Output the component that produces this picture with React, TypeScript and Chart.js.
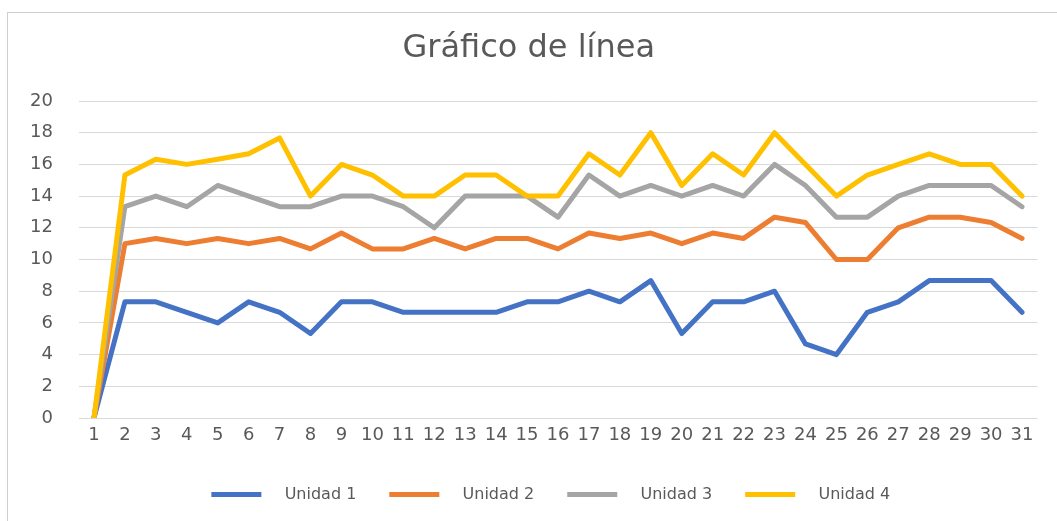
import React, { useEffect, useRef } from "react";
import { Chart, registerables } from "chart.js";

Chart.register(...registerables);

const categories = ["1","2","3","4","5","6","7","8","9","10","11","12","13","14","15","16","17","18","19","20","21","22","23","24","25","26","27","28","29","30","31"];
const unidad1 = [0, 7.33, 7.33, 6.67, 6, 7.33, 6.67, 5.33, 7.33, 7.33, 6.67, 6.67, 6.67, 6.67, 7.33, 7.33, 8, 7.33, 8.67, 5.33, 7.33, 7.33, 8, 4.67, 4, 6.67, 7.33, 8.67, 8.67, 8.67, 6.67];
const unidad2 = [0, 11, 11.33, 11, 11.33, 11, 11.33, 10.67, 11.67, 10.67, 10.67, 11.33, 10.67, 11.33, 11.33, 10.67, 11.67, 11.33, 11.67, 11, 11.67, 11.33, 12.67, 12.33, 10, 10, 12, 12.67, 12.67, 12.33, 11.33];
const unidad3 = [0, 13.33, 14, 13.33, 14.67, 14, 13.33, 13.33, 14, 14, 13.33, 12, 14, 14, 14, 12.67, 15.33, 14, 14.67, 14, 14.67, 14, 16, 14.67, 12.67, 12.67, 14, 14.67, 14.67, 14.67, 13.33];
const unidad4 = [0, 15.33, 16.33, 16, 16.33, 16.67, 17.67, 14, 16, 15.33, 14, 14, 15.33, 15.33, 14, 14, 16.67, 15.33, 18, 14.67, 16.67, 15.33, 18, 16, 14, 15.33, 16, 16.67, 16, 16, 14];
const seriesNames = ["Unidad 1", "Unidad 2", "Unidad 3", "Unidad 4"];
const seriesColors = ["#4472C4", "#ED7D31", "#A5A5A5", "#FFC000"];
const yTicks = [0, 2, 4, 6, 8, 10, 12, 14, 16, 18, 20];
const title = "Gráfico de línea";

const FONT = "'DejaVu Sans', sans-serif";
const TEXT = "#595959";

const shiftBoxes = {
  id: "shiftBoxes",
  afterLayout(chart: any) {
    if (chart.legend) { chart.legend.left += 32; chart.legend.right += 32; }
    if (chart.titleBlock) { chart.titleBlock.left += 10; chart.titleBlock.right += 10; }
  },
};

export default function App() {
  const ref = useRef<HTMLCanvasElement | null>(null);
  useEffect(() => {
    if (!ref.current) return;
    const values = [unidad1, unidad2, unidad3, unidad4];
    const chart = new Chart(ref.current, {
      type: "line",
      data: {
        labels: categories,
        datasets: values.map((d, i) => ({
          label: seriesNames[i],
          data: d,
          borderColor: seriesColors[i],
          backgroundColor: seriesColors[i],
          borderWidth: 5,
          borderJoinStyle: "round" as const,
          borderCapStyle: "round" as const,
          pointRadius: 0,
          pointHoverRadius: 0,
          tension: 0,
          fill: false,
          order: 3 - i,
        })),
      },
      plugins: [shiftBoxes],
      options: {
        responsive: false,
        animation: false,
        layout: { padding: { left: 0, right: 19.5, top: 0, bottom: 8.5 } },
        plugins: {
          tooltip: { enabled: false },
          title: {
            display: true,
            text: title,
            color: TEXT,
            font: { family: FONT, size: 32, weight: "normal" as const, lineHeight: 1.2 },
            padding: { top: 29, bottom: 33.6 },
          },
          legend: {
            position: "bottom",
            labels: {
              color: TEXT,
              font: { family: FONT, size: 16 },
              boxWidth: 50,
              boxHeight: 5,
              padding: 33,
              generateLabels: (c: any) =>
                c.data.datasets.map((ds: any, i: number) => ({
                  text: "   " + ds.label,
                  fillStyle: ds.borderColor,
                  strokeStyle: ds.borderColor,
                  lineWidth: 0,
                  fontColor: TEXT,
                  hidden: false,
                  datasetIndex: i,
                })),
            },
          },
        },
        scales: {
          x: {
            offset: true,
            grid: { display: false, drawTicks: false },
            border: { display: false },
            ticks: {
              color: TEXT,
              font: { family: FONT, size: 18 },
              padding: 7,
              maxRotation: 0,
              autoSkip: false,
            },
            afterFit: (s: any) => { s.height = 35.5; },
          },
          y: {
            min: 0,
            max: 20,
            afterBuildTicks: (s: any) => { s.ticks = yTicks.map((v) => ({ value: v })); },
            grid: { color: "#D9D9D9", lineWidth: 1, drawTicks: false },
            border: { display: false },
            ticks: {
              color: TEXT,
              font: { family: FONT, size: 18 },
              padding: 25.5,
            },
            afterFit: (s: any) => { s.width = 78.5; },
          },
        },
      },
    });
    return () => chart.destroy();
  }, []);
  return (
    <div style={{ position: "absolute", left: 0, top: 0, width: 1057, height: 521, background: "#fff", overflow: "hidden" }}>
      <div style={{ position: "absolute", left: 7, top: 12, width: 1100, height: 600, borderTop: "1px solid #cfcfcf", borderLeft: "1px solid #cfcfcf" }} />
      <canvas ref={ref} width={1057} height={521} style={{ position: "absolute", left: 0, top: 0 }} />
    </div>
  );
}
